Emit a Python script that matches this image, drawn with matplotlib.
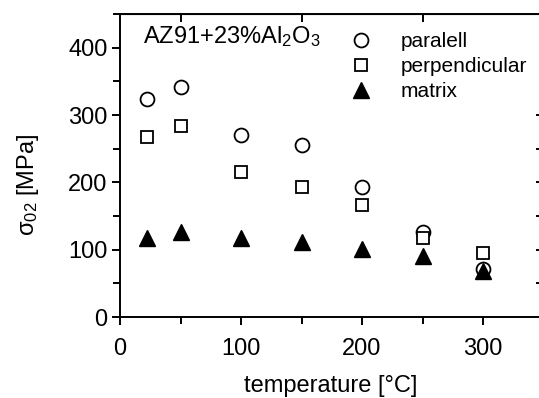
import matplotlib
matplotlib.use("Agg")
import matplotlib.pyplot as plt
from matplotlib.ticker import MultipleLocator

plt.rcParams['font.family'] = ['Liberation Sans', 'DejaVu Sans']
plt.rcParams['mathtext.fontset'] = 'custom'
plt.rcParams['mathtext.rm'] = 'Liberation Sans'
plt.rcParams['mathtext.it'] = 'Liberation Sans'

# yield strength vs test temperature
temp = [22, 50, 100, 150, 200, 250, 300]
paralell = [324, 342, 270, 255, 193, 126, 72]
perpendicular = [267, 283, 216, 193, 166, 117, 95]
matrix = [118, 126, 118, 111, 101, 90, 68]

fig = plt.figure(figsize=(5.39, 3.98), dpi=100)
# right spine sits just past the figure edge
ax = fig.add_axes([120/539, 1 - 317/398, 423.5/539, 303/398])

ms = 10
ax.plot(temp, paralell, 'o', mfc='white', mec='black', mew=1.3, ms=ms, ls='none', label='paralell')
ax.plot(temp, perpendicular, 's', mfc='white', mec='black', mew=1.3, ms=ms - 1, ls='none', label='perpendicular')
ax.plot(temp, matrix, '^', mfc='black', mec='black', ms=ms + 2, ls='none', label='matrix')

ax.set_xlim(0, 350)
ax.set_ylim(0, 450)
ax.xaxis.set_major_locator(MultipleLocator(100))
ax.xaxis.set_minor_locator(MultipleLocator(50))
ax.yaxis.set_major_locator(MultipleLocator(100))
ax.yaxis.set_minor_locator(MultipleLocator(50))
ax.set_yticks([0, 100, 200, 300, 400])

for s in ax.spines.values():
    s.set_linewidth(1.4)

ax.tick_params(which='major', direction='out', length=6, width=1.4, labelsize=17,
               top=False, right=False)
ax.tick_params(which='minor', direction='out', length=5, width=1.4,
               top=False, right=False)
ax.tick_params(axis='x', pad=9)
ax.tick_params(axis='y', pad=3)

# inward ticks on top and right
axt = ax.secondary_xaxis('top')
axt.set_xticks([50, 150, 250])
axt.tick_params(direction='in', length=6, width=1.4, labeltop=False)
axr = ax.secondary_yaxis('right')
axr.set_yticks([50, 100, 150, 200, 250, 300])
axr.tick_params(direction='in', length=6, width=1.4, labelright=False)

ax.set_xlabel('temperature [°C]', fontsize=17)
ax.xaxis.set_label_coords(0.497, -0.19)
ax.set_ylabel(r'$\mathregular{σ_{02}}$ [MPa]', fontsize=17)
ax.yaxis.set_label_coords(-0.187, 0.436)

ax.text(0.054, 0.925, r'AZ91+23%Al$_2$O$_3$', transform=ax.transAxes,
        fontsize=17, va='center', ha='left')

ax.legend(loc='upper left', bbox_to_anchor=(0.54, 0.94), frameon=False,
          fontsize=15, handletextpad=1.3, labelspacing=0.29, borderaxespad=0,
          borderpad=0, handlelength=1.2)

fig.savefig('out.png', dpi=100)
